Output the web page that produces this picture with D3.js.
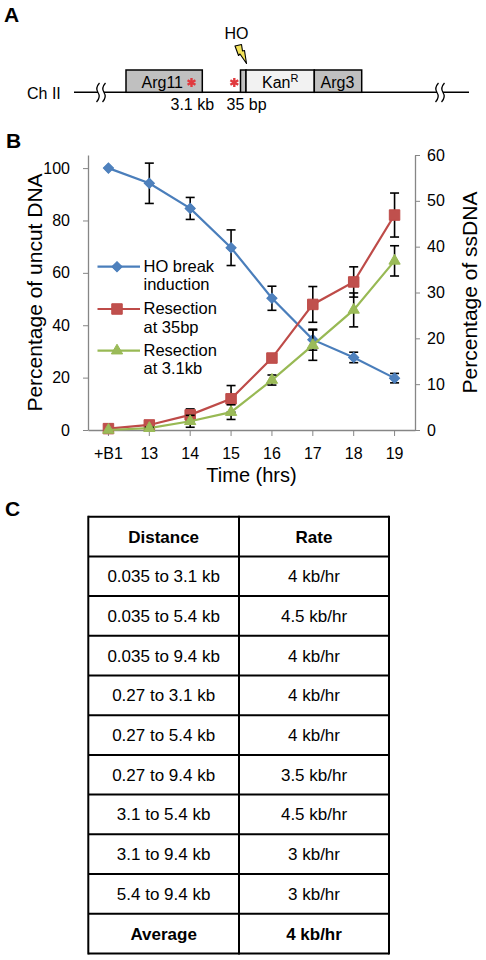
<!DOCTYPE html>
<html>
<head>
<meta charset="utf-8">
<script src="https://cdn.jsdelivr.net/npm/d3@7"></script>
<style>
  body { margin: 0; background: #fff; }
  svg { display: block; font-family: "Liberation Sans", Arial, sans-serif; }
  .axis path, .axis line { stroke: #868686; }
  .axis text { font-size: 16px; fill: #000; font-family: "Liberation Sans", Arial, sans-serif; }
</style>
</head>
<body>
<div class="chart"></div>
<script>
// data
const timeLabels = ["+B1", "13", "14", "15", "16", "17", "18", "19"];
const uncutDNA = [100, 94.2, 84.6, 69.6, 50.3, 34.5, 27.7, 19.8];
const uncutErr = [0, 7.7, 4.2, 6.8, 4.6, 4.0, 2.0, 1.8];
const resect35bp = [0.3, 1.1, 3.3, 6.8, 15.7, 27.4, 32.3, 46.9];
const resect35Err = [0, 0.3, 1.3, 2.9, 0.8, 3.9, 3.3, 4.8];
const resect31kb = [0, 0.4, 1.9, 3.9, 10.9, 18.5, 26.2, 36.9];
const resect31Err = [0, 0.2, 1.3, 1.6, 1.1, 3.3, 3.7, 3.3];
const leftTicks = [0, 20, 40, 60, 80, 100];
const rightTicks = [0, 10, 20, 30, 40, 50, 60];
const seriesNames = [["HO break", "induction"], ["Resection", "at 35bp"], ["Resection", "at 3.1kb"]];

const distances = ["0.035 to 3.1 kb", "0.035 to 5.4 kb", "0.035 to 9.4 kb", "0.27 to 3.1 kb",
  "0.27 to 5.4 kb", "0.27 to 9.4 kb", "3.1 to 5.4 kb", "3.1 to 9.4 kb", "5.4 to 9.4 kb"];
const rates = ["4 kb/hr", "4.5 kb/hr", "4 kb/hr", "4 kb/hr", "4 kb/hr", "3.5 kb/hr",
  "4.5 kb/hr", "3 kb/hr", "3 kb/hr"];
const averageRate = "4 kb/hr";

const W = 486, H = 960;
const svg = d3.select(".chart").append("svg")
  .attr("width", W)
  .attr("height", H);
svg.append("rect").attr("width", W).attr("height", H).attr("fill", "#fff");

// panel letters
svg.selectAll(".panel")
  .data([["A", 4, 22], ["B", 6, 148], ["C", 5, 516]])
  .enter().append("text")
  .attr("x", d => d[1]).attr("y", d => d[2])
  .attr("font-size", 21).attr("font-weight", "bold")
  .text(d => d[0]);

// ---------- panel A: locus diagram ----------
const A = svg.append("g");
A.append("line").attr("x1", 74).attr("x2", 469).attr("y1", 92.3).attr("y2", 92.3)
  .attr("stroke", "#000").attr("stroke-width", 1.6);
A.append("text").attr("x", 27).attr("y", 99).attr("font-size", 16).text("Ch II");

function breakMark(x) {
  A.append("rect").attr("x", x).attr("y", 88).attr("width", 6).attr("height", 9).attr("fill", "#fff");
  [x, x + 6].forEach(cx => {
    A.append("path")
      .attr("d", `M${cx + 1.5},83 Q${cx - 3},88 ${cx},92.5 T${cx - 1.5},102`)
      .attr("fill", "none").attr("stroke", "#000").attr("stroke-width", 1.3);
  });
}
breakMark(98);
breakMark(437);

const boxes = [
  {x0: 126, x1: 202.3, fill: "#c0c0c0"},
  {x0: 240.5, x1: 246, fill: "#c0c0c0"},
  {x0: 246, x1: 314.3, fill: "#f2f2f2"},
  {x0: 314.3, x1: 361.7, fill: "#c0c0c0"}
];
A.selectAll(".gene").data(boxes).enter().append("rect")
  .attr("x", d => d.x0).attr("y", 70)
  .attr("width", d => d.x1 - d.x0).attr("height", 22.3)
  .attr("fill", d => d.fill).attr("stroke", "#000").attr("stroke-width", 1.5);

A.append("text").attr("x", 141.5).attr("y", 87.5).attr("font-size", 16).text("Arg11");
const kan = A.append("text").attr("x", 262).attr("y", 87.5).attr("font-size", 16);
kan.append("tspan").text("Kan");
kan.append("tspan").attr("font-size", 11).attr("dy", -6).text("R");
A.append("text").attr("x", 320.5).attr("y", 87.5).attr("font-size", 16).text("Arg3");

// red asterisks marking the probe sites
A.selectAll(".star").data([[191.5, 82.5], [234.3, 82.5]]).enter().append("path")
  .attr("d", d3.symbol().type(d3.symbolAsterisk).size(58))
  .attr("transform", d => `translate(${d[0]},${d[1]})`)
  .attr("fill", "none").attr("stroke", "#e0393e").attr("stroke-width", 2.4);

A.append("text").attr("x", 236.5).attr("y", 38.5).attr("text-anchor", "middle")
  .attr("font-size", 16).text("HO");
A.append("path")
  .attr("d", "M235,46 L241.5,44.5 L242.5,51 L244.5,50.5 L246.5,63.5 L240,54 L238.5,55.5 Z")
  .attr("fill", "#f3e35a").attr("stroke", "#000").attr("stroke-width", 1.1)
  .attr("stroke-linejoin", "round");

A.append("text").attr("x", 170.5).attr("y", 110).attr("font-size", 16).text("3.1 kb");
A.append("text").attr("x", 226.5).attr("y", 110).attr("font-size", 16).text("35 bp");

// ---------- panel B: line chart ----------
const plot = {left: 88, right: 415, top: 155, bottom: 430};

const x = d3.scaleBand()
  .domain(timeLabels)
  .range([plot.left, plot.right])
  .padding(0);
const cx = d => x(d) + x.bandwidth() / 2;
const yL = d3.scaleLinear().domain([0, 105]).range([plot.bottom, plot.top]);
const yR = d3.scaleLinear().domain([0, 60]).range([plot.bottom, plot.top]);

const B = svg.append("g");

// left axis
B.append("g").attr("class", "axis")
  .attr("transform", `translate(${plot.left},0)`)
  .call(d3.axisLeft(yL).tickValues(leftTicks).tickSize(5).tickSizeOuter(0).tickPadding(13));
// right axis
B.append("g").attr("class", "axis")
  .attr("transform", `translate(${plot.right},0)`)
  .call(d3.axisRight(yR).tickValues(rightTicks).tickSize(5).tickSizeOuter(0).tickPadding(7));
// x axis
B.append("g").attr("class", "axis")
  .attr("transform", `translate(0,${plot.bottom})`)
  .call(d3.axisBottom(x).tickSize(6).tickSizeOuter(0).tickPadding(12));
B.selectAll(".axis path.domain").attr("stroke-width", 1.3);

// axis titles
B.append("text")
  .attr("transform", `translate(42,${(plot.top + plot.bottom) / 2}) rotate(-90)`)
  .attr("text-anchor", "middle").attr("font-size", 21)
  .text("Percentage of uncut DNA");
B.append("text")
  .attr("transform", `translate(477,${(plot.top + plot.bottom) / 2}) rotate(-90)`)
  .attr("text-anchor", "middle").attr("font-size", 21)
  .text("Percentage of ssDNA");
B.append("text")
  .attr("x", (plot.left + plot.right) / 2).attr("y", 482)
  .attr("text-anchor", "middle").attr("font-size", 20)
  .text("Time (hrs)");

const series = [
  {vals: uncutDNA, err: uncutErr, y: yL, line: "#4a7ebb", fill: "#4f81bd",
   sym: d3.symbolSquare, size: 52, rot: 45},
  {vals: resect35bp, err: resect35Err, y: yR, line: "#be4b48", fill: "#c0504d",
   sym: d3.symbolSquare, size: 110, rot: 0},
  {vals: resect31kb, err: resect31Err, y: yR, line: "#98b954", fill: "#9bbb59",
   sym: d3.symbolTriangle, size: 55, rot: 0}
];

series.forEach(s => {
  const pts = timeLabels.map((t, i) => ({t: t, v: s.vals[i], e: s.err[i]}));
  const g = B.append("g");
  g.append("path")
    .datum(pts)
    .attr("fill", "none").attr("stroke", s.line).attr("stroke-width", 2.2)
    .attr("d", d3.line().x(d => cx(d.t)).y(d => s.y(d.v)));

  const eb = g.selectAll(".err").data(pts.filter(d => d.e > 0)).enter().append("g")
    .attr("stroke", "#000").attr("stroke-width", 1.6);
  eb.append("line")
    .attr("x1", d => cx(d.t)).attr("x2", d => cx(d.t))
    .attr("y1", d => s.y(d.v - d.e)).attr("y2", d => s.y(d.v + d.e));
  [-1, 1].forEach(sg => {
    eb.append("line")
      .attr("x1", d => cx(d.t) - 4.5).attr("x2", d => cx(d.t) + 4.5)
      .attr("y1", d => s.y(d.v + sg * d.e)).attr("y2", d => s.y(d.v + sg * d.e));
  });

  g.selectAll(".mk").data(pts).enter().append("path")
    .attr("d", d3.symbol().type(s.sym).size(s.size))
    .attr("transform", d => `translate(${cx(d.t)},${s.y(d.v)}) rotate(${s.rot})`)
    .attr("fill", s.fill).attr("stroke", s.line).attr("stroke-width", 1);
});

// legend
const legY = [266.7, 309, 350.7];
series.forEach((s, i) => {
  const lg = B.append("g");
  lg.append("line").attr("x1", 97.5).attr("x2", 140).attr("y1", legY[i]).attr("y2", legY[i])
    .attr("stroke", s.line).attr("stroke-width", 2.2);
  lg.append("path")
    .attr("d", d3.symbol().type(s.sym).size(s.size))
    .attr("transform", `translate(117,${legY[i]}) rotate(${s.rot})`)
    .attr("fill", s.fill).attr("stroke", s.line);
  seriesNames[i].forEach((line, j) => {
    lg.append("text").attr("x", 143.5).attr("y", legY[i] + 5 + j * 18.5)
      .attr("font-size", 16.5).text(line);
  });
});

// ---------- panel C: table ----------
const rows = [["Distance", "Rate", true]]
  .concat(distances.map((d, i) => [d, rates[i], false]))
  .concat([["Average", averageRate, true]]);
const tbl = {left: 88.3, mid: 239, right: 389, top: 516.7, rowH: 39.7};
const C = svg.append("g");
const rowY = d3.scaleLinear().domain([0, rows.length]).range([tbl.top, tbl.top + rows.length * tbl.rowH]);

C.selectAll(".hline").data(d3.range(rows.length + 1)).enter().append("line")
  .attr("x1", tbl.left).attr("x2", tbl.right)
  .attr("y1", d => rowY(d)).attr("y2", d => rowY(d))
  .attr("stroke", "#000").attr("stroke-width", 2);
C.selectAll(".vline").data([tbl.left, tbl.mid, tbl.right]).enter().append("line")
  .attr("x1", d => d).attr("x2", d => d)
  .attr("y1", rowY(0) - 1).attr("y2", rowY(rows.length) + 1)
  .attr("stroke", "#000").attr("stroke-width", 2);

const rowG = C.selectAll(".row").data(rows).enter().append("g");
rowG.append("text")
  .attr("x", (tbl.left + tbl.mid) / 2)
  .attr("y", (d, i) => rowY(i) + tbl.rowH / 2 + 6)
  .attr("text-anchor", "middle").attr("font-size", 17)
  .attr("font-weight", d => d[2] ? "bold" : "normal")
  .text(d => d[0]);
rowG.append("text")
  .attr("x", (tbl.mid + tbl.right) / 2)
  .attr("y", (d, i) => rowY(i) + tbl.rowH / 2 + 6)
  .attr("text-anchor", "middle").attr("font-size", 17)
  .attr("font-weight", d => d[2] ? "bold" : "normal")
  .text(d => d[1]);
</script>
</body>
</html>
